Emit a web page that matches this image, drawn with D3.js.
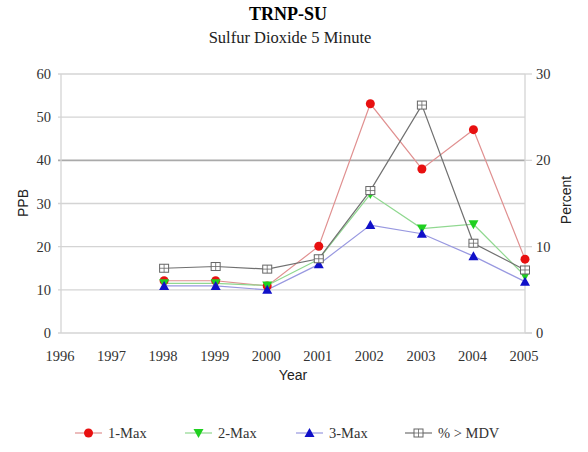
<!DOCTYPE html>
<html><head><meta charset="utf-8">
<script src="https://cdn.jsdelivr.net/npm/d3@7"></script>
<style>body{margin:0;background:#fff}svg{display:block}</style>
</head><body>
<svg id="c" width="588" height="452"></svg>
<script>
const years = [1996,1997,1998,1999,2000,2001,2002,2003,2004,2005];
const dataYears = [1998,1999,2000,2001,2002,2003,2004,2005];
const max1 = [12.1,12.1,10.9,20.1,53.1,38.0,47.1,17.1];
const max2 = [11.5,11.5,11.0,17.1,32.2,24.2,25.2,13.2];
const max3 = [10.9,10.9,10.0,15.9,25.0,23.0,17.8,11.9];
const pctMDV = [7.5,7.7,7.4,8.6,16.5,26.4,10.4,7.3];
const leftTicks = [0,10,20,30,40,50,60];
const rightTicks = [0,10,20,30];

const svg = d3.select("#c");
const L = 61, R = 525, T = 74, B = 333;
const x = d3.scalePoint().domain(years).range([L, R]);
const yL = d3.scaleLinear().domain([0,60]).range([B, T]);
const yR = d3.scaleLinear().domain([0,30]).range([B, T]);
const serif = "'Liberation Serif','Times New Roman',serif";
const sans = "'Liberation Sans',Arial,sans-serif";

// title
svg.append("text").attr("x",288).attr("y",20).attr("text-anchor","middle")
  .attr("font-family",serif).attr("font-weight","bold").attr("font-size",18).text("TRNP-SU");
svg.append("text").attr("x",290).attr("y",43).attr("text-anchor","middle")
  .attr("font-family",serif).attr("font-size",16.5).attr("fill","#222").text("Sulfur Dioxide 5 Minute");

// gridlines
svg.append("g").selectAll("line").data(leftTicks).join("line")
  .attr("x1",L-3).attr("x2",d=> d===0 ? R+7 : R).attr("y1",d=>yL(d)).attr("y2",d=>yL(d))
  .attr("stroke",d=> d===40 ? "#aaa" : "#d4d4d4").attr("stroke-width",d=>d===40?1.6:1.3);

// axes lines
svg.append("line").attr("x1",L).attr("x2",L).attr("y1",T).attr("y2",B).attr("stroke","#d4d4d4").attr("stroke-width",1.3);
svg.append("line").attr("x1",R).attr("x2",R).attr("y1",T).attr("y2",B).attr("stroke","#d4d4d4").attr("stroke-width",1.3);
svg.append("g").selectAll("line").data(rightTicks).join("line")
  .attr("x1",R).attr("x2",R+7).attr("y1",d=>yR(d)).attr("y2",d=>yR(d)).attr("stroke","#d4d4d4").attr("stroke-width",1.3);

// tick labels
svg.append("g").selectAll("text").data(leftTicks).join("text")
  .attr("x",L-10).attr("y",d=>yL(d)+5).attr("text-anchor","end")
  .attr("font-family",serif).attr("font-size",14.5).attr("fill","#333").text(d=>d);
svg.append("g").selectAll("text").data(rightTicks).join("text")
  .attr("x",R+11).attr("y",d=>yR(d)+5).attr("text-anchor","start")
  .attr("font-family",serif).attr("font-size",14.5).attr("fill","#333").text(d=>d);
svg.append("g").selectAll("text").data(years).join("text")
  .attr("x",d=>x(d)-1).attr("y",361).attr("text-anchor","middle")
  .attr("font-family",serif).attr("font-size",14.5).attr("fill","#333").text(d=>d);

// axis titles
svg.append("text").attr("x",293).attr("y",380).attr("text-anchor","middle")
  .attr("font-family",sans).attr("font-size",14).attr("fill","#222").text("Year");
svg.append("text").attr("transform","translate(28,203) rotate(-90)").attr("text-anchor","middle")
  .attr("font-family",sans).attr("font-size",14).attr("fill","#222").text("PPB");
svg.append("text").attr("transform","translate(571,200) rotate(-90)").attr("text-anchor","middle")
  .attr("font-family",sans).attr("font-size",14).attr("fill","#222").text("Percent");

// series
const series = [
  {name:"1-Max", vals:max1, y:yL, line:"#e09090", fill:"#e81010", sym:"circle"},
  {name:"2-Max", vals:max2, y:yL, line:"#90d890", fill:"#20d020", sym:"down"},
  {name:"3-Max", vals:max3, y:yL, line:"#9898e0", fill:"#1010c8", sym:"up"},
  {name:"% > MDV", vals:pctMDV, y:yR, line:"#707070", fill:"#fff", sym:"square"}
];
function marker(g, sym, fill, cx, cy){
  if(sym==="circle") g.append("circle").attr("cx",cx).attr("cy",cy).attr("r",4.5).attr("fill",fill);
  else if(sym==="down") g.append("path").attr("d",`M${cx-5},${cy-4}L${cx+5},${cy-4}L${cx},${cy+5}Z`).attr("fill",fill);
  else if(sym==="up") g.append("path").attr("d",`M${cx-5},${cy+4}L${cx+5},${cy+4}L${cx},${cy-5}Z`).attr("fill",fill);
  else {
    g.append("rect").attr("x",cx-4.5).attr("y",cy-4).attr("width",9).attr("height",8).attr("fill","#fff").attr("stroke","#666").attr("stroke-width",1);
    g.append("path").attr("d",`M${cx-4.5},${cy}H${cx+4.5}M${cx},${cy-4}V${cy+4}`).attr("stroke","#666").attr("stroke-width",0.8);
  }
}
series.forEach(s=>{
  const line = d3.line().x((d,i)=>x(dataYears[i])).y(d=>s.y(d));
  svg.append("path").datum(s.vals).attr("d",line).attr("fill","none").attr("stroke",s.line).attr("stroke-width",1.2);
});
series.forEach(s=>{
  const g = svg.append("g");
  s.vals.forEach((v,i)=>marker(g, s.sym, s.fill, x(dataYears[i]), s.y(v)));
});

// legend
const legX = [75, 185, 296, 405];
series.forEach((s,i)=>{
  const g = svg.append("g");
  const lx = legX[i], ly = 433;
  g.append("line").attr("x1",lx).attr("x2",lx+27).attr("y1",ly).attr("y2",ly).attr("stroke",s.line).attr("stroke-width",1.2);
  marker(g, s.sym, s.fill, lx+13.5, ly);
  g.append("text").attr("x",lx+33).attr("y",ly+5).attr("font-family",serif).attr("font-size",14.5).attr("fill","#333").text(s.name);
});
</script>
</body></html>
